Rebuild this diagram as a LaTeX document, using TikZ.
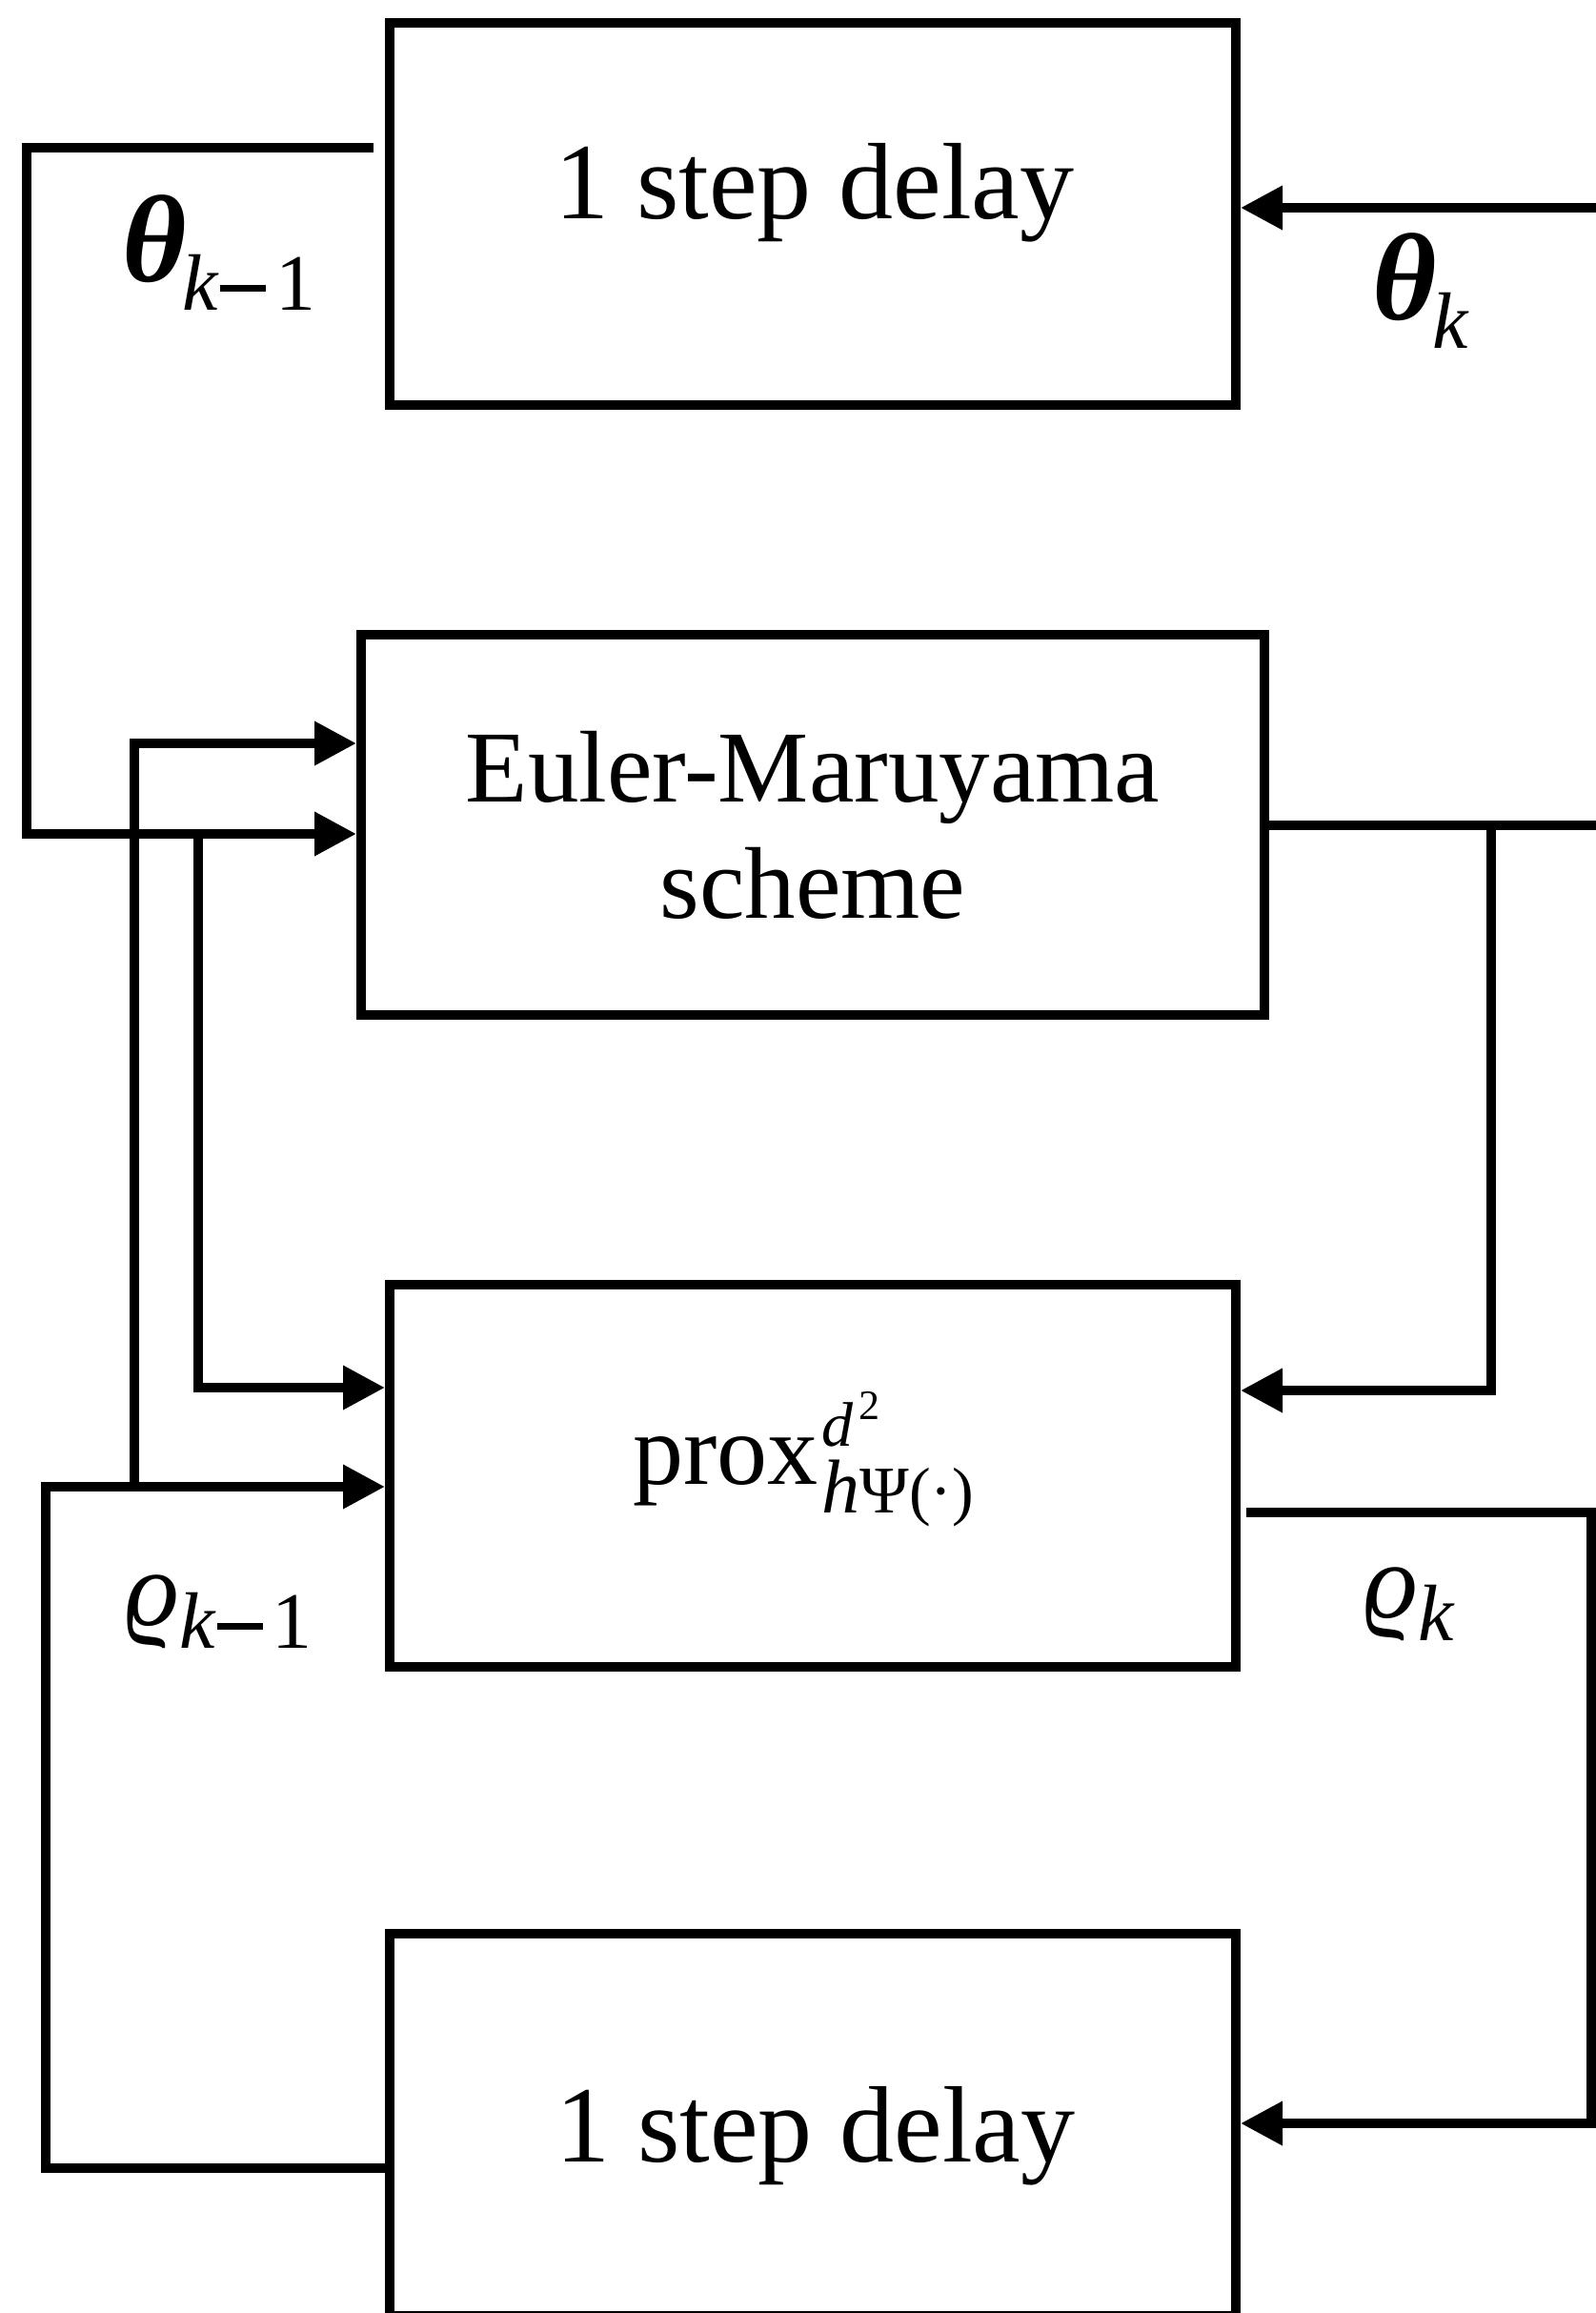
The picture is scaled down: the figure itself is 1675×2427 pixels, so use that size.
\documentclass[tikz,border=0pt]{standalone}
\usepackage{fontspec}
\setmainfont{Liberation Serif}
\usetikzlibrary{arrows.meta}
\newcommand{\mainsz}[1]{\fontsize{#1}{#1}\selectfont}
\newcommand{\thetasym}{{\mainsz{65}\bfseries\itshape θ}}
\newcommand{\rhosym}{{\mainsz{56}\itshape ϱ}}
\newcommand{\submin}{\kern1pt\rule[9.6pt]{24pt}{3.4pt}\kern5pt}
\newcommand{\subk}[2]{\raisebox{-#1}{\mainsz{42}\itshape k\upshape #2}}
\begin{document}
\begin{tikzpicture}[x=0.5pt,y=-0.5pt,
  box/.style={draw,line width=5pt,inner sep=0pt,minimum width=444pt,minimum height=200.5pt},
  wire/.style={line width=5pt},
  arr/.style={wire,-{Triangle[length=22pt,width=22pt]}},
  txt/.style={font=\mainsz{57},inner sep=0pt,anchor=base},
  lab/.style={inner sep=0pt,anchor=base west}]
\useasboundingbox (0,0) rectangle (1675,2427);
\clip (0,0) rectangle (1675,2427);
% boxes
\node[box] (D1) at (853,224.5) {};
\node[box,minimum width=474pt,minimum height=199.5pt] (EM) at (853,865.5) {};
\node[box] (PX) at (853,1548.5) {};
\node[box] (D2) at (853,2229.5) {};
% box texts
\node[txt] (D1t) at (855,229) {1 step delay};
\node[txt,font=\mainsz{53.5}] (EMt1) at (853,841) {Euler-Maruyama};
\node[txt,font=\mainsz{53.5}] (EMt2) at (853,963) {scheme};
\node[lab] (PXt) at (664,1557) {\mainsz{53}prox\kern2pt\rlap{\raisebox{20pt}{\mainsz{33}\itshape d\kern3pt\raisebox{14pt}{\upshape\mainsz{22}2}}}\raisebox{-15pt}{\mainsz{40}\itshape h\upshape{\mainsz{35}Ψ}\mainsz{34}(·)}};
\node[txt] (D2t) at (856,2268) {1 step delay};
% connectors
\coordinate (c1) at (28,155);
\coordinate (c2) at (28,875);
\draw[arr] ([xshift=-6pt]D1.west |- c1) -- (c1) -- (c2) -- (EM.west |- c2);
\coordinate (r1) at (1675,218);
\draw[arr] (r1) -- (D1.east |- r1);
\coordinate (r2) at (1675,866);
\coordinate (b1) at (1565,866);
\coordinate (b2) at (1565,1459);
\draw[wire] (EM.east |- r2) -- (r2);
\draw[arr] (b1) -- (b2) -- (PX.east |- b2);
\coordinate (l1) at (208,876);
\coordinate (l2) at (208,1456);
\draw[arr] (l1) -- (l2) -- (PX.west |- l2);
\coordinate (l3) at (141,1558);
\coordinate (l4) at (141,780);
\draw[arr] (l3) -- (l4) -- (EM.west |- l4);
\coordinate (q1) at (48,2275);
\coordinate (q2) at (48,1560);
\draw[arr] (D2.west |- q1) -- (q1) -- (q2) -- (PX.west |- q2);
\coordinate (p1) at (1670,1587);
\coordinate (p2) at (1670,2228);
\draw[arr] ([xshift=3pt]PX.east |- p1) -- (p1) -- (p2) -- (D2.east |- p2);
% labels
\node[lab] (Lth1) at (128,295) {\thetasym\kern-2pt\subk{15pt}{\submin 1}};
\node[lab] (Lth) at (1440,335) {\thetasym\kern-2pt\subk{15pt}{}};
\node[lab] (Lrho1) at (131,1705) {\rhosym\subk{12pt}{\submin 1}};
\node[lab] (Lrho) at (1431,1697) {\rhosym\subk{12pt}{}};
\end{tikzpicture}
\end{document}
